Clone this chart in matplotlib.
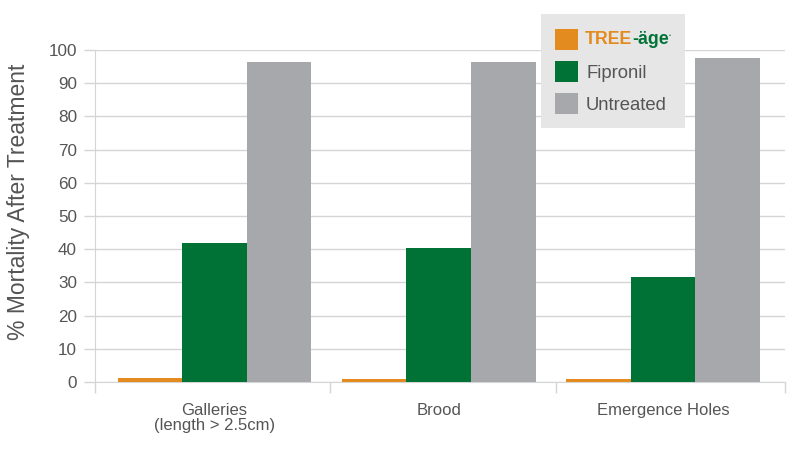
import numpy as np
import matplotlib.pyplot as plt
from matplotlib.patches import Rectangle

plt.rcParams['font.family'] = ['Liberation Sans', 'DejaVu Sans']

categories = ["Galleries\n(length > 2.5cm)", "Brood", "Emergence Holes"]
tree_age = [1.2, 0.8, 0.9]
fipronil = [41.8, 40.3, 31.6]
untreated = [96.4, 96.3, 97.7]

orange = "#E38B1F"
green = "#007236"
gray = "#A7A8AB"
text_col = "#555555"
line_col = "#D5D5D5"

fig = plt.figure(figsize=(7.96, 4.5), dpi=100)
ax = fig.add_axes([95 / 796, 1 - 382 / 450, 690 / 796, 332 / 450])

x = np.arange(len(categories))
w = 0.288
ax.bar(x - w, tree_age, w, color=orange, zorder=3)
ax.bar(x, fipronil, w, color=green, zorder=3)
ax.bar(x + w, untreated, w, color=gray, zorder=3)

x_lo, x_hi = -0.533, 2.544
ax.set_xlim(x_lo, x_hi)
ax.set_ylim(0, 100)
ax.set_yticks(range(0, 101, 10))
ax.yaxis.grid(True, color=line_col, linewidth=1, zorder=0)
ax.set_axisbelow(True)

ax.set_xticks(x)
ax.set_xticklabels(categories, fontsize=12, color=text_col, linespacing=1.0)
ax.tick_params(axis='x', which='major', length=0, pad=15)
ax.set_xticks([x_lo, 0.515, 1.523, x_hi], minor=True)
ax.tick_params(axis='x', which='minor', length=8, color=line_col, width=1)
ax.tick_params(axis='y', length=8, color=line_col, width=1, labelsize=12.3,
               labelcolor=text_col, pad=5)

for s in ["top", "right"]:
    ax.spines[s].set_visible(False)
for s in ["left", "bottom"]:
    ax.spines[s].set_color(line_col)

fig.text(19 / 796, 1 - 202 / 450, "% Mortality After Treatment", fontsize=16.5,
         color=text_col, rotation=90, ha="center", va="center")

# legend box
fig.patches.append(Rectangle((541 / 796, 1 - 128 / 450), 144 / 796, 114 / 450,
                             transform=fig.transFigure, facecolor="#E6E6E7",
                             edgecolor="none", zorder=10))
sq_w, sq_h = 23 / 796, 21 / 450
for yt, col in [(29, orange), (61, green), (93, gray)]:
    fig.patches.append(Rectangle((555 / 796, 1 - (yt + 21) / 450), sq_w, sq_h,
                                 transform=fig.transFigure, facecolor=col,
                                 edgecolor="none", zorder=11))

t1 = fig.text(585 / 796, 1 - 40 / 450, "TREE", color=orange, fontsize=12.8,
              fontweight="bold", va="center", ha="left", zorder=12)
t2 = fig.add_artist(plt.Annotation("-äge", xy=(1, 0), xycoords=t1, va="bottom",
                                   ha="left", color=green, fontsize=12.8,
                                   fontweight="bold", zorder=12))
fig.add_artist(plt.Annotation("•", xy=(1, 0.6), xycoords=t2, va="bottom",
                              ha="left", color=green, fontsize=4, zorder=12))
fig.text(586 / 796, 1 - 73 / 450, "Fipronil", color=text_col, fontsize=13.3,
         va="center", ha="left", zorder=12)
fig.text(586 / 796, 1 - 105 / 450, "Untreated", color=text_col, fontsize=13.3,
         va="center", ha="left", zorder=12)

fig.savefig("out.png", dpi=100)
